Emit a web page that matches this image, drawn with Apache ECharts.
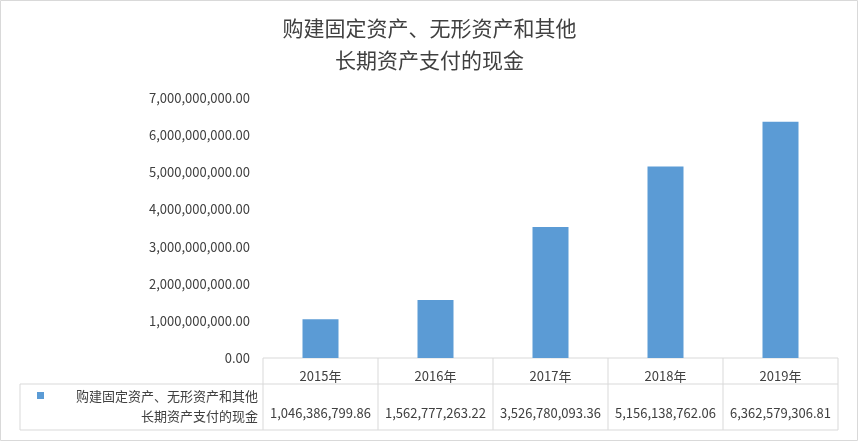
<!DOCTYPE html>
<html><head><meta charset="utf-8">
<script src="https://cdn.jsdelivr.net/npm/echarts@6/dist/echarts.min.js"></script>
<style>html,body{margin:0;padding:0;background:#fff}#c{width:859px;height:442px}</style>
</head><body><div id="c"></div>
<script>
const categories = ['2015年','2016年','2017年','2018年','2019年'];
const values = [1046386799.86,1562777263.22,3526780093.36,5156138762.06,6362579306.81];
const seriesName = '购建固定资产、无形资产和其他长期资产支付的现金';
const titleText = '购建固定资产、无形资产和其他\n长期资产支付的现金';
const fmt = v => v.toLocaleString('en-US',{minimumFractionDigits:2,maximumFractionDigits:2});
const F = '"Noto Sans CJK SC", "Microsoft YaHei", sans-serif';
const L=263,R=838,T=98,B=358,ROW1=384,ROW2=430,LEFT=20;
const lines=[];
const ln=(x1,y1,x2,y2)=>lines.push({type:'line',shape:{x1,y1,x2,y2},style:{stroke:'#d9d9d9',lineWidth:1}});
ln(L,B,R,B);ln(L,ROW1,R,ROW1);ln(LEFT,ROW1,L,ROW1);ln(LEFT,ROW2,R,ROW2);ln(LEFT,ROW1,LEFT,ROW2);
for(let i=0;i<=categories.length;i++){const x=L+(R-L)*i/categories.length;ln(x,B,x,ROW2);}
lines.push({type:'rect',shape:{x:0.5,y:0.5,width:857,height:440},style:{fill:'none',stroke:'#d9d9d9'}});
lines.push({type:'rect',shape:{x:37,y:392,width:7,height:7},style:{fill:'#5b9bd5'}});
lines.push({type:'text',x:258,y:396,style:{text:'购建固定资产、无形资产和其他',font:'13px '+F,fill:'#404040',align:'right',verticalAlign:'middle'}});
lines.push({type:'text',x:258,y:416,style:{text:'长期资产支付的现金',font:'13px '+F,fill:'#404040',align:'right',verticalAlign:'middle'}});
const chart=echarts.init(document.getElementById('c'));
chart.setOption({
  animation:false,
  title:{text:titleText,left:'center',top:7,textStyle:{fontFamily:F,fontSize:21,fontWeight:'normal',color:'#404040',lineHeight:32}},
  grid:{left:L,right:859-R,top:T,bottom:442-B},
  xAxis:[
    {type:'category',data:categories,axisLine:{show:false},axisTick:{show:false},
     axisLabel:{interval:0,hideOverlap:false,fontFamily:F,fontSize:13,color:'#404040',margin:12}},
    {type:'category',data:values.map(fmt),position:'bottom',offset:26,axisLine:{show:false},axisTick:{show:false},
     axisLabel:{interval:0,hideOverlap:false,fontFamily:F,fontSize:13,color:'#404040',margin:23}}
  ],
  yAxis:{type:'value',min:0,max:7000000000,interval:1000000000,
    axisLabel:{formatter:v=>fmt(v),fontFamily:F,fontSize:13,color:'#404040',margin:13},
    splitLine:{show:false},axisLine:{show:false},axisTick:{show:false}},
  series:[{name:seriesName,type:'bar',data:values,barWidth:36,itemStyle:{color:'#5b9bd5'}}],
  graphic:lines
});
</script></body></html>
